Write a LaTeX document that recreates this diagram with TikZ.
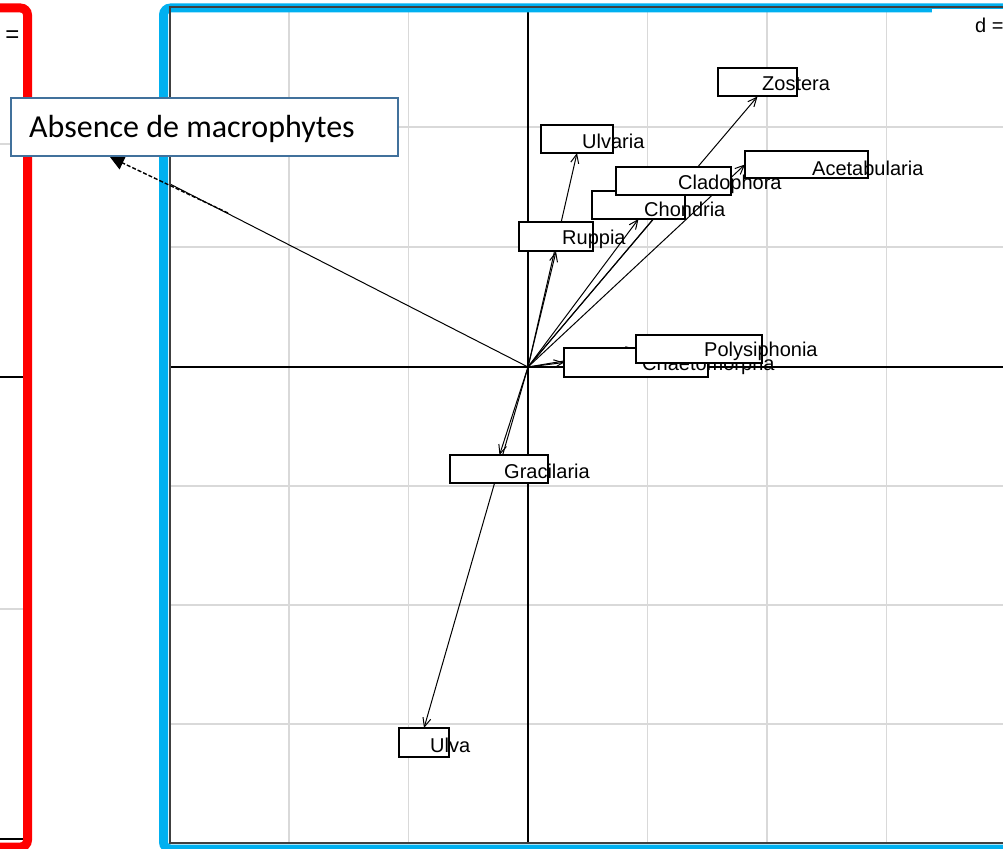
\documentclass[tikz,border=0pt]{standalone}
\usepackage{fontspec}
\setmainfont{Liberation Sans}
\newfontfamily\callfont{Carlito}
\usetikzlibrary{arrows.meta}
\definecolor{gridc}{HTML}{D9D9D9}
\definecolor{frameblue}{HTML}{00B0F0}
\definecolor{framered}{HTML}{FF0000}
\definecolor{calloutc}{HTML}{41719C}
\definecolor{plotframe}{HTML}{404040}
\begin{document}
\begin{tikzpicture}[x=1pt,y=-1pt,
  gridline/.style={gridc, line width=1.2pt},
  axisline/.style={black, line width=1.2pt},
  vec/.style={black, line width=1pt, -{Straight Barb[length=9pt,width=8pt]}},
  lbox/.style={draw=black, fill=white, line width=1.2pt, inner sep=0pt},
  lab/.style={anchor=base west, inner sep=0pt, font=\fontsize{20}{22}\selectfont},
  callbox/.style={draw=calloutc, fill=white, line width=1.6pt, inner sep=0pt},
  dashvec/.style={black, line width=1.4pt, dash pattern=on 4pt off 2pt, -{Triangle[length=14pt,width=14pt]}}
]
\useasboundingbox (0,0) rectangle (1003,848);
\clip (0,0) rectangle (1003,848);
\fill[white] (0,0) rectangle (1003,848);

% left panel remnants
\draw[gridline] (0,144) -- (23,144);
\draw[gridline] (0,609) -- (23,609);
\draw[axisline] (0,377) -- (23,377);
\draw[axisline] (0,839) -- (23,839);
\node[inner sep=0pt, font=\fontsize{24}{26}\selectfont] (leq) at (12.5,37) {=};

% grid of right panel
\foreach \gx in {289,408.5,647.5,767,886.5} \draw[gridline] (\gx,8) -- (\gx,843);
\foreach \gy in {127,247,486,605,724} \draw[gridline] (170,\gy) -- (1003,\gy);
\draw[axisline] (528,8) -- (528,843);
\draw[axisline] (170,367) -- (1003,367);

\coordinate (O) at (528,367);
\coordinate (tZos) at (757.5,96.5);
\coordinate (tUlvaria) at (577,153);
\coordinate (tClad) at (673.5,195);
\coordinate (tChon) at (638.5,219);
\coordinate (tAcet) at (745,164.5);
\coordinate (tRup) at (556,251.5);
\coordinate (tPoly) at (636,349);
\coordinate (tChae) at (564,362.5);
\coordinate (tGrac) at (499.5,455);
\coordinate (tUlva) at (424,728);
\coordinate (tAbs) at (170,184);

\draw[vec] (O) -- (tZos);
\draw[vec] (O) -- (tUlvaria);
\draw[vec] (O) -- (tClad);
\draw[vec] (O) -- (tChon);
\draw[vec] (O) -- (tAcet);
\draw[vec] (O) -- (tRup);
\draw[vec] (O) -- (tPoly);
\draw[vec] (O) -- (tChae);
\draw[vec] (O) -- (tGrac);
\draw[vec] (O) -- (tUlva);
\draw[black, line width=1pt] (O) -- (tAbs);

% label boxes and labels
\node[lbox, minimum width=79pt, minimum height=28pt] (bZos) at (757.5,82) {};
\node[lab] (lZos) at (762,90.7) {Zostera};
\node[lbox, minimum width=72pt, minimum height=28pt] (bUlvaria) at (577,139) {};
\node[lab] (lUlvaria) at (582,148.3) {Ulvaria};
\node[lbox, minimum width=123pt, minimum height=27pt] (bAcet) at (806.5,164.5) {};
\node[lab] (lAcet) at (812,175) {Acetabularia};
\node[lbox, minimum width=93pt, minimum height=28pt] (bChon) at (638.5,205) {};
\node[lbox, minimum width=115pt, minimum height=28pt] (bClad) at (673.5,181) {};
\node[lab] (lClad) at (678,189.3) {Cladophora};
\node[lab] (lChon) at (644,216) {Chondria};
\node[lbox, minimum width=74pt, minimum height=29pt] (bRup) at (556,236.5) {};
\node[lab] (lRup) at (562,244) {Ruppia};
\node[lbox, minimum width=144pt, minimum height=29pt] (bChae) at (636,362.5) {};
\node[lab] (lChae) at (642,370) {Chaetomorpha};
\node[lbox, minimum width=126pt, minimum height=28pt] (bPoly) at (699,349) {};
\node[lab] (lPoly) at (704,356.7) {Polysiphonia};
\node[lbox, minimum width=98pt, minimum height=28pt] (bGrac) at (499,469) {};
\node[lab] (lGrac) at (504,478) {Gracilaria};
\node[lbox, minimum width=50pt, minimum height=29pt] (bUlva) at (424,742.5) {};
\node[lab] (lUlva) at (430,752) {Ulva};

% frames
\draw[framered, line width=9pt, rounded corners=7pt] (-10,8) -- (27.5,8) -- (27.5,847) -- (-10,847);
\draw[frameblue, line width=9pt, rounded corners=7pt] (1020,8) -- (163.5,8) -- (163.5,849) -- (1020,849);
\node[fill=white, inner sep=0pt, anchor=north west, minimum width=75pt, minimum height=36pt] (dbox) at (932,8.5) {};
\node[lab] (dlab) at (975,33) {d =};
\draw[plotframe, line width=1.5pt] (1010,7) -- (170,7) -- (170,843) -- (1010,843);

% callout
\coordinate (dStart) at (228,213);
\coordinate (dTip) at (110,157);
\draw[dashvec] (dStart) -- (dTip);
\node[callbox, anchor=north west, minimum width=387pt, minimum height=58pt] (callout) at (10,97) {};
\node[anchor=base west, inner sep=0pt, font=\callfont\fontsize{32}{36}\selectfont] (calltext) at (29,137) {Absence de macrophytes};
\end{tikzpicture}
\end{document}
